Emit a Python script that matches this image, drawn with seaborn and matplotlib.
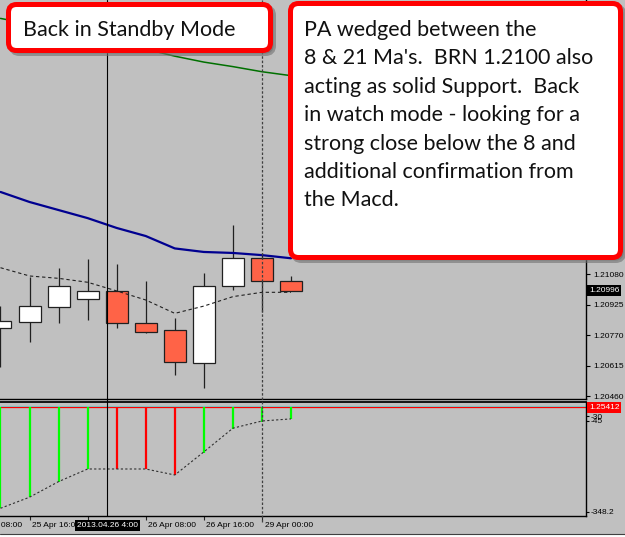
import numpy as np
import pandas as pd
import matplotlib
matplotlib.use("Agg")
import matplotlib.pyplot as plt
import seaborn as sns
from matplotlib.patches import FancyBboxPatch, Rectangle
from matplotlib.transforms import IdentityTransform, blended_transform_factory
from matplotlib.lines import Line2D

# ---------------- data ----------------
candle_idx = list(range(11))
opens  = [1.20807, 1.20835, 1.20914, 1.20955, 1.20994, 1.20833, 1.20796, 1.20626, 1.21019, 1.21161, 1.21046]
highs  = [1.20917, 1.21066, 1.21112, 1.21156, 1.21132, 1.21046, 1.20855, 1.21084, 1.21329, 1.21187, 1.21070]
lows   = [1.20609, 1.20736, 1.20830, 1.20846, 1.20807, 1.20779, 1.20567, 1.20499, 1.20999, 1.20887, 1.20996]
closes = [1.20843, 1.20916, 1.21019, 1.20994, 1.20830, 1.20785, 1.20631, 1.21019, 1.21161, 1.21046, 1.20996]

ma8   = [1.21112, 1.21070, 1.21058, 1.21038, 1.20994, 1.20948, 1.20880, 1.20917, 1.20965, 1.20987, 1.20987]
ma21  = [1.21497, 1.21446, 1.21405, 1.21364, 1.21314, 1.21273, 1.21210, 1.21192, 1.21187, 1.21176, 1.21160]
ma_long = [1.22379, 1.22350, 1.22320, 1.22289, 1.22259, 1.22223, 1.22187, 1.22157, 1.22134, 1.22108, 1.22088]

macd_hist = [-336, -299, -247, -205, -205, -205, -225, -153, -73, -47, -39]
macd_signal = [-336, -299, -247, -205, -205, -205, -225, -148, -69, -45, -38]
hist_dir = ["up", "up", "up", "up", "down", "down", "down", "up", "up", "up", "up"]

price_ticks = [1.20460, 1.20615, 1.20770, 1.20925, 1.21080]
last_price = 1.20996
hline_label = "1.25412"
ind_ticks = [-30, -45, -348.2]
ind_tick_labels = ["-30", "-45", "-348.2"]

time_pos = [-1, 1, 3, 5, 7, 9]
time_labels = ["25 Apr 08:00", "25 Apr 16:00", "26 Apr 00:00", "26 Apr 08:00", "26 Apr 16:00", "29 Apr 00:00"]
cursor_pos = 3.676
cursor_label = "2013.04.26 4:00"
marker_pos = 9.0

note1 = "Back in Standby Mode"
note2_lines = ["PA wedged between the",
               "8 & 21 Ma's.  BRN 1.2100 also",
               "acting as solid Support.  Back",
               "in watch mode - looking for a",
               "strong close below the 8 and",
               "additional confirmation from",
               "the Macd."]

# ---------------- style ----------------
sns.set_theme(style="white")
BG = "#C0C0C0"
plt.rcParams["font.family"] = ["Liberation Sans", "DejaVu Sans"]

W, H = 625, 537
fig = plt.figure(figsize=(W / 100, H / 100), dpi=100, facecolor=BG)

ax = fig.add_axes([0, 1 - 399 / H, 586 / W, 399 / H])
axi = fig.add_axes([0, 1 - 516 / H, 586 / W, 114 / H])
for a in (ax, axi):
    a.set_facecolor(BG)
    for s in ("left", "top"):
        a.spines[s].set_visible(False)
    for s in ("right", "bottom"):
        a.spines[s].set_color("black")
        a.spines[s].set_linewidth(1.0)
    a.set_xlim(-0.017, 20.155)

axi.spines["top"].set_visible(True)
axi.spines["top"].set_color("black")

ax.set_ylim(1.204448, 1.224725)
axi.set_ylim(-361.7, 18.3)

# ---------------- candles ----------------
df = pd.DataFrame({"x": candle_idx, "o": opens, "h": highs, "l": lows, "c": closes})
ax.vlines(df["x"], df["l"], df["h"], color="#202020", lw=0.9, zorder=2)
bull = df["c"] >= df["o"]
bottoms = np.minimum(df["o"], df["c"])
heights = np.abs(df["c"] - df["o"])
ax.bar(df["x"], heights, bottom=bottoms, width=0.757,
       color=np.where(bull, "white", "#FF6347"), edgecolor="#202020", linewidth=0.9, zorder=3)

# moving averages
sns.lineplot(x=candle_idx, y=ma_long, ax=ax, color="#007000", lw=1.1, zorder=2)
sns.lineplot(x=candle_idx, y=ma21, ax=ax, color="#000090", lw=1.6, zorder=2)
sns.lineplot(x=candle_idx, y=ma8, ax=ax, color="#202020", lw=0.8, linestyle=(0, (3, 2.5)), zorder=4)

# ---------------- indicator ----------------
axi.axhline(5, color="#70D8D8", lw=0.8, zorder=1)
axi.axhline(0, color="#FF0000", lw=0.9, zorder=2)
cols = ["#00FF00" if d == "up" else "#FF0000" for d in hist_dir]
axi.vlines(candle_idx, 0, macd_hist, colors=cols, lw=1.6, zorder=3)
sns.lineplot(x=candle_idx, y=macd_signal, ax=axi, color="#303030", lw=0.8,
             linestyle=(0, (2, 2)), zorder=4)

# ---------------- axes ticks ----------------
ax.yaxis.tick_right()
ax.set_yticks(price_ticks)
ax.set_yticklabels([f"{v:.5f}" for v in price_ticks])
ax.tick_params(axis="y", direction="out", length=3, width=0.8, pad=2, labelsize=6, colors="black")
ax.set_xticks([])
ax.set_xlabel("")
ax.set_ylabel("")

axi.yaxis.tick_right()
axi.set_yticks(ind_ticks)
axi.set_yticklabels(ind_tick_labels)
axi.tick_params(axis="y", direction="out", length=2, width=0.8, pad=1, labelsize=6, colors="black")
axi.set_xticks([p for p in time_pos if p >= 0])
axi.set_xticklabels([])
axi.tick_params(axis="x", direction="out", length=3, width=0.8, bottom=True)
axi.set_xlabel("")
axi.set_ylabel("")

tr = blended_transform_factory(axi.transData, axi.transAxes)
for p, lab in zip(time_pos, time_labels):
    axi.text(p + 0.09, -0.083, lab, transform=tr, ha="left", va="center", fontsize=6,
             color="black", clip_on=False)
axi.text(cursor_pos, -0.083, cursor_label, transform=tr, ha="center", va="center", fontsize=6,
         color="white", clip_on=False, zorder=10,
         bbox=dict(boxstyle="square,pad=0.25", facecolor="black", edgecolor="none"))

# price labels
trp = blended_transform_factory(ax.transAxes, ax.transData)
ax.text(1.005, last_price, f"{last_price:.5f}", transform=trp, ha="left", va="center", fontsize=6,
        color="white", clip_on=False, zorder=10,
        bbox=dict(boxstyle="square,pad=0.2", facecolor="black", edgecolor="none"))
tri = blended_transform_factory(axi.transAxes, axi.transData)
axi.text(1.005, 0, hline_label, transform=tri, ha="left", va="center", fontsize=6,
         color="white", clip_on=False, zorder=10,
         bbox=dict(boxstyle="square,pad=0.2", facecolor="#FF0000", edgecolor="none"))

# vertical lines across panels
trv = blended_transform_factory(ax.transData, fig.transFigure)
fig.add_artist(Line2D([cursor_pos, cursor_pos], [1 - 516 / H, 1.0], transform=trv, color="black", lw=0.8))
fig.add_artist(Line2D([marker_pos, marker_pos], [1 - 522 / H, 1.0], transform=trv, color="#404040",
                      lw=0.9, linestyle=(0, (2, 1.5))))

# bottom border
idt = IdentityTransform()
fig.add_artist(Rectangle((0, 0), W, H - 534, transform=idt, facecolor="white", edgecolor="none"))
fig.add_artist(Line2D([0, W], [H - 534, H - 534], transform=idt, color="#404040", lw=0.8))

# ---------------- note boxes ----------------
def note_box(x0, y0, x1, y1):
    # pixel coords (top-left origin) of the outer edge
    lw_px = 5
    bx0, by0 = x0 + lw_px / 2, y0 + lw_px / 2
    bx1, by1 = x1 - lw_px / 2, y1 - lw_px / 2
    shadow = FancyBboxPatch((bx0 + 3, H - by1 - 3), bx1 - bx0, by1 - by0,
                            boxstyle="round,pad=0,rounding_size=8", transform=idt,
                            facecolor="#707070", edgecolor="#707070", lw=lw_px * 0.72, alpha=0.6, zorder=20)
    box = FancyBboxPatch((bx0, H - by1), bx1 - bx0, by1 - by0,
                         boxstyle="round,pad=0,rounding_size=8", transform=idt,
                         facecolor="white", edgecolor="#FF0000", lw=lw_px * 0.72, zorder=21)
    fig.add_artist(shadow)
    fig.add_artist(box)

note_box(6, 2, 273, 53)
note_box(288, 1, 623, 260)

fig.text(22.7, H - 35.5, note1, transform=idt, ha="left", va="baseline", fontsize=15.5,
         family=["Lato", "DejaVu Sans"], color="#111111", zorder=30)
for k, line in enumerate(note2_lines):
    fig.text(304, H - (36 + 28.4 * k), line, transform=idt, ha="left", va="baseline", fontsize=15.5,
             family=["Lato", "DejaVu Sans"], color="#111111", zorder=30)

fig.savefig("out.png", dpi=100, facecolor=BG)
